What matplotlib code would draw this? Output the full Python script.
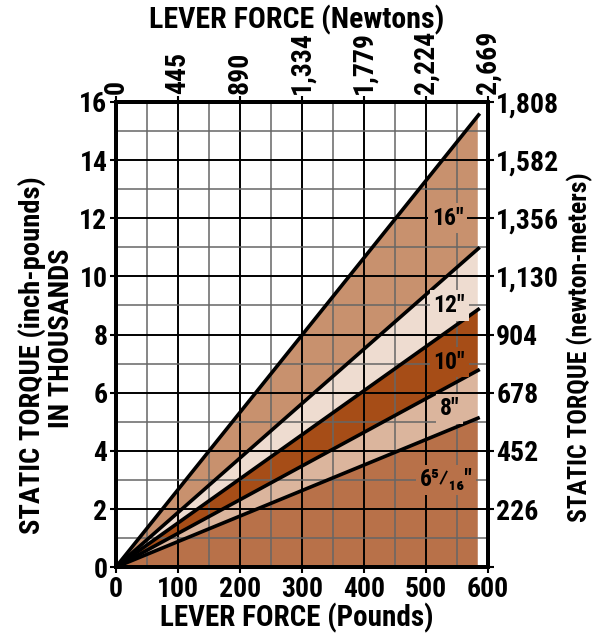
import matplotlib.pyplot as plt
import numpy as np

plt.rcParams['font.family'] = ['Roboto Condensed', 'Barlow Semi Condensed',
                               'Liberation Sans', 'DejaVu Sans']
plt.rcParams['font.weight'] = 'heavy'

# lever lengths and the torque (thousand in-lb) each line reaches at its end force
lever_labels = ['16"', '12"', '10"', '8"', '6⁵⁄₁₆"']
torque_end = [15.6, 11.0, 8.9, 6.8, 5.15]
force_end = 587      # lb, where the lines stop
fill_end = 583       # lb, where the shading stops

# band colours, from the 16" band down to the band under the smallest lever
band_colors = ['#c8916e', '#eedcd0', '#a64d17', '#dbb59d', '#b87149']

# label positions for each band (lb, thousand in-lb)
label_x = [535, 538, 538, 538, 533]
label_y = [12.0, 9.0, 7.05, 5.45, 3.0]

pound_ticks = [0, 100, 200, 300, 400, 500, 600]
newton_labels = ['0', '445', '890', '1,334', '1,779', '2,224', '2,669']
inlb_ticks = [0, 2, 4, 6, 8, 10, 12, 14, 16]
nm_labels = ['', '226', '452', '678', '904', '1,130', '1,356', '1,582', '1,808']

fig = plt.figure(figsize=(6, 6.33), dpi=100)
ax = fig.add_axes([0.193, 0.104, 0.62, 0.735])

x = np.linspace(0, fill_end, 200)
slopes = [t / force_end for t in torque_end]
for i, s in enumerate(slopes):
    lower = slopes[i + 1] * x if i + 1 < len(slopes) else np.zeros_like(x)
    ax.fill_between(x, lower, s * x, color=band_colors[i], lw=0, zorder=1)

# grid: light lines every 50 lb / 1000 in-lb, dark ones every 100 lb / 2000 in-lb
for gx in range(50, 600, 50):
    ax.axvline(gx, color='black' if gx % 100 == 0 else '#666666',
               lw=1.4 if gx % 100 == 0 else 1.1, zorder=2)
for gy in range(1, 16):
    ax.axhline(gy, color='black' if gy % 2 == 0 else '#666666',
               lw=1.4 if gy % 2 == 0 else 1.1, zorder=2)

for t in torque_end:
    ax.plot([0, force_end], [0, t], color='black', lw=2.6,
            solid_capstyle='butt', zorder=3)

for lab, lx, ly, c in zip(lever_labels, label_x, label_y, band_colors):
    ax.text(lx, ly, lab, ha='center', va='center', fontsize=17, zorder=4,
            bbox=dict(boxstyle='square,pad=0.15', fc=c, ec='none'))

ax.set_xlim(0, 600)
ax.set_ylim(0, 16)
for sp in ax.spines.values():
    sp.set_linewidth(2.8)

ax.set_xticks(pound_ticks)
ax.set_xticklabels([str(v) for v in pound_ticks])
ax.set_yticks(inlb_ticks)
ax.set_yticklabels([str(v) for v in inlb_ticks])
ax.tick_params(axis='x', labelsize=20, width=1.5, length=4, pad=2)
ax.tick_params(axis='y', labelsize=20, width=1.5, length=4, pad=2)

top = ax.twiny()
top.set_xlim(ax.get_xlim())
top.set_xticks(pound_ticks)
top.set_xticklabels(newton_labels, rotation=90)
top.tick_params(labelsize=20, width=1.5, length=4, pad=2)

right = ax.twinx()
right.set_ylim(ax.get_ylim())
right.set_yticks(inlb_ticks)
right.set_yticklabels(nm_labels)
right.tick_params(labelsize=20, width=1.5, length=4, pad=2)

for a in (top, right):
    for sp in a.spines.values():
        sp.set_linewidth(2.8)

# axis titles
fig.text(0.495, 0.968, 'LEVER FORCE (Newtons)', ha='center', va='center', fontsize=21.5)
fig.text(0.495, 0.024, 'LEVER FORCE (Pounds)', ha='center', va='center', fontsize=21)
fig.text(0.053, 0.439, 'STATIC TORQUE (inch-pounds)', ha='center', va='center',
         rotation=90, fontsize=20.5)
fig.text(0.103, 0.466, 'IN THOUSANDS', ha='center', va='center',
         rotation=90, fontsize=20.5)
fig.text(0.967, 0.452, 'STATIC TORQUE (newton-meters)', ha='center', va='center',
         rotation=90, fontsize=18.5)

fig.savefig('out.png', dpi=100)
